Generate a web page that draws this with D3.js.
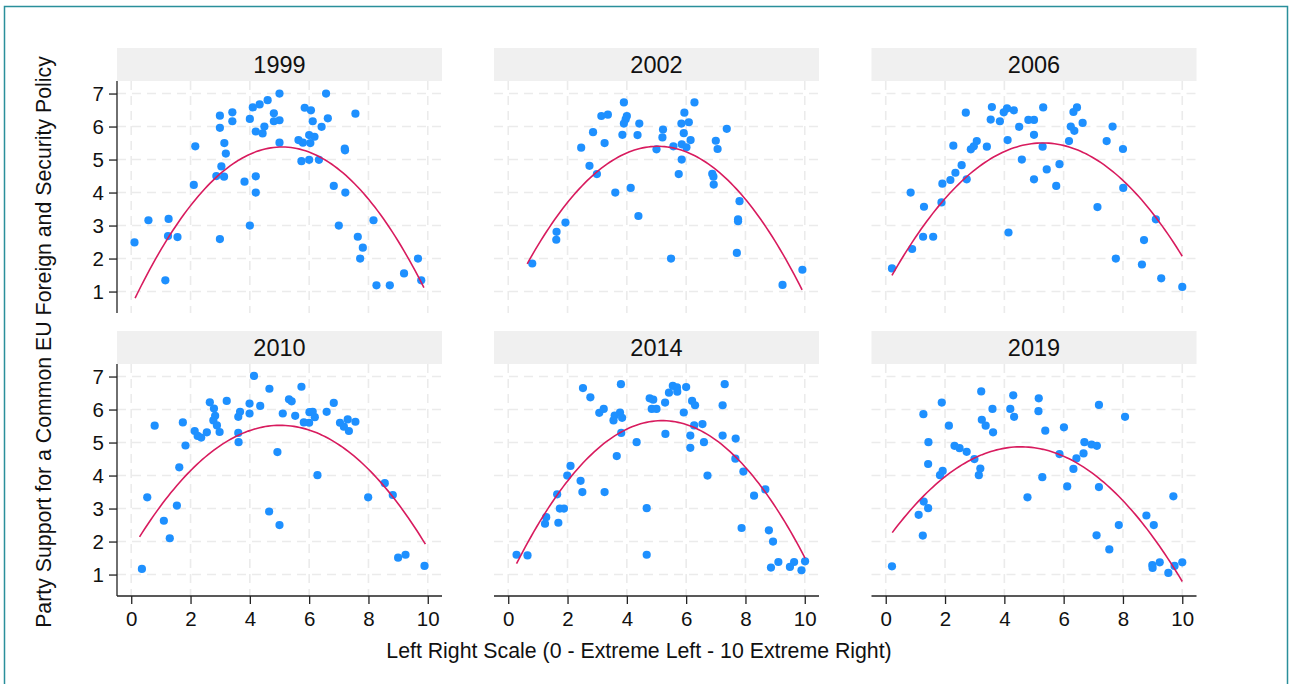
<!DOCTYPE html>
<html>
<head>
<meta charset="utf-8">
<script src="https://cdn.jsdelivr.net/npm/d3@7"></script>
<style>
  html, body { margin: 0; padding: 0; background: #ffffff; }
  svg { display: block; font-family: "Liberation Sans", Arial, Helvetica, sans-serif; }
</style>
</head>
<body>
<svg id="chart" width="1290" height="684"></svg>
<script>
// ---------------- DATA ----------------
const years = ["1999", "2002", "2006", "2010", "2014", "2019"];
const xTicks = [0, 2, 4, 6, 8, 10];
const yTicks = [1, 2, 3, 4, 5, 6, 7];
const xTitle = "Left Right Scale (0 - Extreme Left - 10 Extreme Right)";
const yTitle = "Party Support for a Common EU Foreign and Security Policy";

const pts1999 = [[0.11,2.49],[0.58,3.16],[1.26,3.2],[1.24,2.68],[1.56,2.65],[1.15,1.34],[2.16,5.4],[2.11,4.23],
  [2.99,6.33],[2.99,5.96],[3.14,5.5],[3.19,5.18],[3.04,4.79],[2.87,4.5],[3.13,4.48],[2.99,2.59],[3.41,6.43],[3.41,6.16],
  [4.0,6.23],[3.82,4.33],[4.2,4.49],[4.2,4.0],[4.0,3.0],[4.1,6.58],[4.33,6.67],[4.6,6.8],[4.2,5.85],[4.43,5.79],[4.49,6.0],
  [4.81,6.4],[4.81,6.16],[5.0,6.19],[5.0,7.0],[5.0,5.51],[5.64,5.59],[5.79,5.51],[5.74,4.95],[6.0,4.99],[6.04,5.5],[6.0,5.74],
  [6.18,5.69],[5.85,6.57],[6.06,6.49],[6.12,6.16],[6.42,5.99],[6.33,4.99],[6.57,7.0],[6.63,6.25],[7.2,5.33],[7.21,5.28],
  [7.56,6.39],[6.83,4.2],[7.22,4.0],[7.0,3.0],[7.64,2.66],[7.81,2.33],[7.72,2.0],[8.17,3.16],[8.27,1.19],[8.72,1.19],
  [9.2,1.55],[9.67,2.0],[9.78,1.34]];
const pts2002 = [[0.81,1.85],[1.63,2.81],[1.62,2.57],[1.93,3.09],[2.46,5.36],[2.74,4.81],[2.99,4.56],[2.86,5.83],[3.25,5.5],
  [3.14,6.32],[3.36,6.36],[3.9,6.73],[4.0,6.32],[3.96,6.22],[3.9,6.09],[3.85,5.75],[4.42,6.09],[4.36,5.74],[3.61,4.0],
  [4.13,4.14],[4.39,3.29],[5.0,5.31],[5.22,5.91],[5.2,5.67],[5.57,5.4],[5.49,2.0],[5.75,4.56],[5.85,5.0],[5.85,5.46],
  [6.01,5.37],[5.92,5.8],[5.84,6.09],[6.09,6.13],[5.94,6.42],[6.15,5.59],[6.28,6.73],[6.88,4.57],[6.92,4.48],[6.93,4.24],
  [7.0,5.57],[7.06,5.32],[7.37,5.93],[7.8,3.74],[7.75,3.19],[7.75,3.13],[7.71,2.17],[9.25,1.2],[9.92,1.66]];
const pts2006 = [[0.21,1.7],[0.89,2.29],[0.84,4.0],[1.29,3.57],[1.26,2.66],[1.6,2.66],[1.88,3.7],[1.91,4.27],[2.18,4.38],
  [2.35,4.6],[2.56,4.83],[2.73,4.4],[2.28,5.42],[2.7,6.42],[2.87,5.31],[2.97,5.4],[3.07,5.56],[3.41,5.39],[3.54,6.21],
  [3.58,6.59],[3.85,6.16],[3.98,6.43],[4.09,6.55],[4.32,6.49],[4.11,5.59],[4.14,2.79],[4.5,5.99],[4.59,5.0],[4.81,6.2],
  [5.0,6.2],[5.0,5.75],[5.0,4.4],[5.31,6.58],[5.29,5.39],[5.43,4.7],[5.75,4.2],[5.86,4.86],[6.18,5.56],[6.24,6.0],
  [6.36,5.87],[6.33,6.44],[6.45,6.58],[6.64,6.11],[7.14,3.56],[7.45,5.56],[7.65,6.0],[8.0,5.32],[8.01,4.14],[7.76,2.0],
  [8.71,2.56],[8.64,1.82],[9.11,3.19],[9.29,1.4],[10.0,1.14]];
const pts2010 = [[0.36,1.17],[0.54,3.34],[0.79,5.51],[1.1,2.63],[1.3,2.1],[1.54,3.09],[1.62,4.25],[1.74,5.61],[1.83,4.91],
  [2.14,5.35],[2.24,5.2],[2.36,5.15],[2.55,5.31],[2.65,6.22],[2.79,6.03],[2.83,5.81],[2.77,5.67],[2.89,5.52],[2.98,5.32],
  [3.22,6.26],[3.61,5.29],[3.62,5.01],[3.61,5.78],[3.67,5.93],[3.99,6.18],[3.99,5.88],[4.14,7.02],[4.35,6.11],[4.65,2.91],
  [4.66,6.63],[4.93,4.71],[5.0,2.5],[5.11,5.88],[5.32,6.31],[5.41,6.25],[5.74,6.69],[5.53,5.81],[5.82,5.61],[6.0,5.6],
  [6.01,5.92],[6.12,5.93],[6.19,5.77],[6.28,4.01],[6.59,5.93],[6.83,6.2],[7.04,5.6],[7.17,5.48],[7.3,5.7],[7.34,5.35],
  [7.56,5.63],[7.99,3.34],[8.55,3.77],[8.82,3.41],[9.0,1.51],[9.25,1.6],[9.89,1.26]];
const pts2014 = [[0.28,1.6],[0.65,1.58],[1.24,2.54],[1.28,2.74],[1.69,2.57],[1.65,3.43],[1.74,3.0],[1.88,3.0],[1.99,4.0],
  [2.1,4.29],[2.44,3.84],[2.5,3.5],[3.25,3.5],[2.52,6.65],[2.77,6.37],[3.07,5.9],[3.22,6.02],[3.55,5.67],[3.59,5.82],
  [3.77,5.91],[3.84,5.75],[3.81,5.29],[3.8,6.77],[3.66,4.59],[4.33,5.01],[4.67,3.01],[4.67,1.6],[4.77,6.34],[4.89,6.3],
  [4.84,6.02],[5.0,6.02],[5.29,6.21],[5.3,5.26],[5.42,6.51],[5.55,6.72],[5.69,6.67],[5.7,6.54],[6.0,6.68],[5.92,5.91],
  [6.2,6.26],[6.3,6.13],[6.27,5.52],[6.55,5.56],[6.14,5.21],[6.14,4.84],[6.6,5.01],[6.72,4.0],[7.3,6.77],[7.23,6.13],
  [7.23,5.21],[7.67,5.12],[7.66,4.51],[7.93,4.12],[8.29,3.39],[8.67,3.58],[7.87,2.41],[8.79,2.34],[8.93,2.0],[8.86,1.21],
  [9.11,1.38],[9.5,1.23],[9.64,1.38],[9.89,1.13],[10.01,1.4]];
const pts2019 = [[0.21,1.25],[1.11,2.81],[1.25,2.18],[1.28,3.21],[1.43,3.01],[1.27,5.86],[1.44,5.01],[1.43,4.35],[1.83,4.01],
  [1.92,4.14],[1.89,6.21],[2.13,5.51],[2.32,4.9],[2.49,4.83],[2.73,4.72],[2.99,4.5],[3.14,4.01],[3.19,4.21],[3.22,6.55],
  [3.24,5.69],[3.37,5.51],[3.62,5.31],[3.6,6.02],[4.2,6.02],[4.3,6.43],[4.33,5.78],[4.78,3.34],[5.16,6.34],[5.15,5.95],
  [5.38,5.36],[5.28,3.95],[5.86,4.65],[6.01,5.46],[6.12,3.67],[6.33,4.2],[6.43,4.52],[6.67,4.67],[6.7,5.01],[6.94,4.94],
  [7.12,4.9],[7.19,3.65],[7.19,6.14],[7.11,2.19],[7.54,1.76],[7.86,2.5],[8.07,5.78],[8.79,2.79],[9.04,2.5],[8.99,1.29],
  [9.0,1.2],[9.24,1.37],[9.53,1.05],[9.74,1.26],[9.7,3.37],[10.0,1.37]];
const panelData = [pts1999, pts2002, pts2006, pts2010, pts2014, pts2019];

// Quadratic fit lines: [x, y] at start, peak and end
const fitStart = [[0.13,0.80],[0.64,1.84],[0.21,1.49],[0.28,2.14],[0.28,1.33],[0.22,2.27]];
const fitPeak  = [[5.03,5.38],[5.12,5.40],[5.42,5.50],[4.92,5.52],[5.06,5.66],[4.52,4.87]];
const fitEnd   = [[9.87,1.12],[9.91,1.05],[10.0,2.07],[9.92,1.92],[10.01,1.50],[10.0,0.79]];

// ---------------- LAYOUT ----------------
const W = 1290, H = 684;
const colLeft = [117, 494, 871.5];
const rowTop = [48, 331];
const panelW = 325, stripH = 33, plotH = 232;
const dotColor = "#1e90ff", lineColor = "#d81b5e";
const gridColor = "#ebebeb", stripColor = "#f0f0f0";

const svg = d3.select("#chart");
svg.append("rect").attr("width", W).attr("height", H).attr("fill", "#ffffff");
svg.append("rect").attr("x", 4.5).attr("y", 6.5).attr("width", 1283).attr("height", 720)
  .attr("fill", "none").attr("stroke", "#2a8f9b").attr("stroke-width", 1.5);

// quadratic through three read points (Lagrange form)
function quadThrough(p0, p1, p2) {
  return v => p0[1] * (v - p1[0]) * (v - p2[0]) / ((p0[0] - p1[0]) * (p0[0] - p2[0]))
            + p1[1] * (v - p0[0]) * (v - p2[0]) / ((p1[0] - p0[0]) * (p1[0] - p2[0]))
            + p2[1] * (v - p0[0]) * (v - p1[0]) / ((p2[0] - p0[0]) * (p2[0] - p1[0]));
}

years.forEach((yr, i) => {
  const col = i % 3, row = Math.floor(i / 3);
  const left = colLeft[col], top = rowTop[row];
  const pTop = top + stripH;
  const x = d3.scaleLinear().domain([-0.48, 10.48]).range([left, left + panelW]);
  const y = d3.scaleLinear().domain([0.35, 7.38]).range([pTop + plotH, pTop]);
  const g = svg.append("g");

  // strip
  g.append("rect").attr("x", left).attr("y", top).attr("width", panelW).attr("height", stripH).attr("fill", stripColor);
  g.append("text").attr("x", left + panelW / 2).attr("y", top + stripH / 2 + 8.5)
    .attr("text-anchor", "middle").attr("font-size", 23.5).attr("fill", "#111").text(yr);

  // grid
  const grid = g.append("g").attr("stroke", gridColor).attr("stroke-width", 1.6).attr("stroke-dasharray", "9,6");
  yTicks.forEach(v => grid.append("line").attr("x1", left).attr("x2", left + panelW)
    .attr("y1", y(v)).attr("y2", y(v)));
  xTicks.forEach(v => grid.append("line").attr("x1", x(v)).attr("x2", x(v))
    .attr("y1", pTop).attr("y2", pTop + plotH));

  // points
  const pts = panelData[i];
  g.append("g").selectAll("circle").data(pts).join("circle")
    .attr("cx", d => x(d[0])).attr("cy", d => y(d[1])).attr("r", 4.1).attr("fill", dotColor);

  // quadratic fit line
  const f = quadThrough(fitStart[i], fitPeak[i], fitEnd[i]);
  const xmin = fitStart[i][0], xmax = fitEnd[i][0];
  const xs = d3.range(0, 101).map(k => xmin + (xmax - xmin) * k / 100);
  g.append("path").datum(xs)
    .attr("d", d3.line().x(v => x(v)).y(v => y(f(v))))
    .attr("fill", "none").attr("stroke", lineColor).attr("stroke-width", 1.6);

  // axes
  if (col === 0) {
    const ay = g.append("g").attr("transform", `translate(${left},0)`)
      .call(d3.axisLeft(y).tickValues(yTicks).tickSize(8).tickPadding(5).tickFormat(d3.format("d")));
    ay.select(".domain").attr("d", `M0,${pTop}V${pTop + plotH}`).attr("stroke", "#222").attr("stroke-width", 1.3);
    ay.selectAll(".tick line").attr("stroke", "#222").attr("stroke-width", 1.3);
    ay.selectAll(".tick text").attr("font-size", 20.5).attr("fill", "#111")
      .attr("font-family", "Liberation Sans, Arial, sans-serif");
  }
  if (row === 1) {
    const ax = g.append("g").attr("transform", `translate(0,${pTop + plotH})`)
      .call(d3.axisBottom(x).tickValues(xTicks).tickSize(8).tickPadding(7).tickFormat(d3.format("d")));
    ax.select(".domain").attr("d", `M${left},0H${left + panelW}`).attr("stroke", "#222").attr("stroke-width", 1.3);
    ax.selectAll(".tick line").attr("stroke", "#222").attr("stroke-width", 1.3);
    ax.selectAll(".tick text").attr("font-size", 20.5).attr("fill", "#111")
      .attr("font-family", "Liberation Sans, Arial, sans-serif");
  }
});

// axis titles
svg.append("text").attr("x", 639).attr("y", 658).attr("text-anchor", "middle")
  .attr("font-size", 21.3).attr("fill", "#111").text(xTitle);
svg.append("text").attr("transform", "translate(51,342) rotate(-90)").attr("text-anchor", "middle")
  .attr("font-size", 21.3).attr("fill", "#111").text(yTitle);
</script>
</body>
</html>
